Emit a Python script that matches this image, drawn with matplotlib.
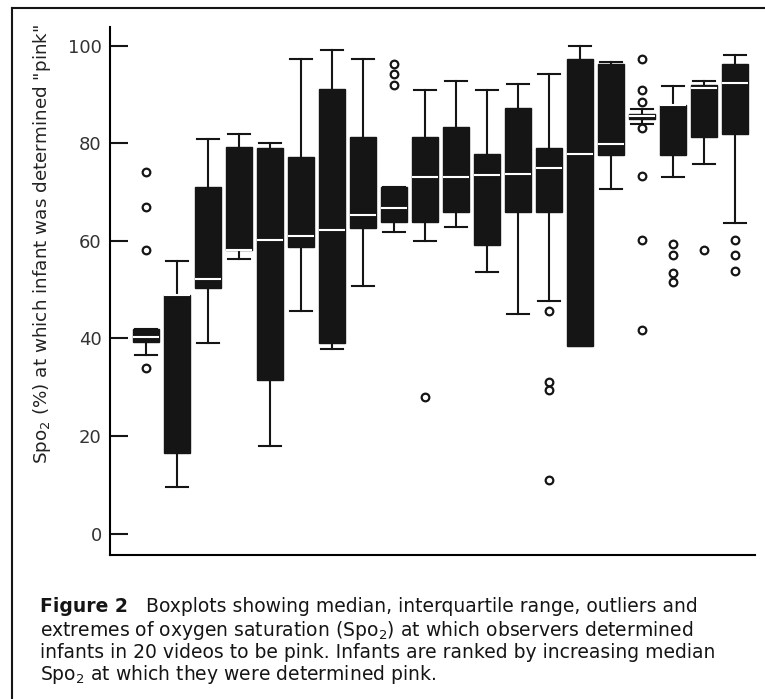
import matplotlib
matplotlib.use("Agg")
from matplotlib import pyplot as plt
from matplotlib.lines import Line2D

# infants ranked by median SpO2
infants = list(range(1, 21))
whislo = [36.6, 9.6, 39.0, 56.2, 18.0, 45.7, 37.8, 50.8, 61.7, 60.0,
          62.8, 53.5, 45.0, 47.7, 38.5, 70.6, 83.9, 73.0, 75.8, 63.7]
q1 = [39.2, 16.6, 50.3, 58.0, 31.5, 58.8, 39.0, 62.7, 63.9, 63.9,
      65.8, 59.2, 65.8, 65.8, 38.5, 77.6, 85.0, 77.6, 81.2, 81.9]
med = [40.2, 48.9, 52.1, 58.0, 60.2, 60.9, 62.1, 65.2, 66.7, 73.0,
       73.0, 73.4, 73.7, 75.0, 77.7, 79.9, 85.5, 87.8, 91.3, 92.3]
q3 = [41.9, 48.9, 71.1, 79.3, 79.0, 77.1, 91.1, 81.2, 71.1, 81.2,
      83.3, 77.8, 87.2, 79.0, 97.3, 96.2, 85.9, 87.8, 91.9, 96.2]
whishi = [41.9, 55.9, 80.9, 81.9, 80.0, 97.2, 99.1, 97.2, 71.1, 90.9,
          92.8, 90.9, 92.2, 94.2, 100.0, 96.7, 87.0, 91.7, 92.8, 98.1]
fliers = [[34, 58, 67, 74], [], [], [], [], [], [], [],
          [92, 94.1, 96.3], [28], [], [], [],
          [45.6, 31.1, 29.4, 10.9], [], [],
          [97.3, 90.9, 88.4, 83.1, 73.2, 60.2, 41.7],
          [59.4, 57.1, 53.4, 51.5], [58.1], [60.2, 57.0, 53.9]]
yticks = [0, 20, 40, 60, 80, 100]

ylabel = 'Spo$_2$ (%) at which infant was determined "pink"'
caption_head = "Figure 2"
caption = [
    "   Boxplots showing median, interquartile range, outliers and",
    "extremes of oxygen saturation (Spo$_2$) at which observers determined",
    "infants in 20 videos to be pink. Infants are ranked by increasing median",
    "Spo$_2$ at which they were determined pink.",
]

plt.rcParams["font.family"] = ["DejaVu Sans"]
plt.rcParams["mathtext.default"] = "regular"

W, H = 765, 699
fig = plt.figure(figsize=(W / 100, H / 100), dpi=100)
ax = fig.add_axes([110 / W, 1 - 555 / H, 645 / W, 528 / H])

stats = []
for i in range(len(infants)):
    stats.append(dict(med=med[i], q1=q1[i], q3=q3[i], whislo=whislo[i],
                      whishi=whishi[i], fliers=fliers[i]))

ink = "#151515"
ax.bxp(stats, positions=infants, widths=0.87, capwidths=0.72,
       patch_artist=True,
       boxprops=dict(facecolor=ink, edgecolor=ink, linewidth=1),
       medianprops=dict(color="white", linewidth=1.5),
       whiskerprops=dict(color=ink, linewidth=1.5),
       capprops=dict(color=ink, linewidth=1.5),
       flierprops=dict(marker="o", markerfacecolor="white",
                       markeredgecolor=ink, markersize=5.5, markeredgewidth=1.6))

ax.set_xlim(1 - 36 / 31, 20 + 20 / 31)
ax.set_ylim(-4.4, 103.8)
ax.set_yticks(yticks)
ax.set_xticks([])
ax.spines["top"].set_visible(False)
ax.spines["right"].set_visible(False)
ax.spines["left"].set_linewidth(1.5)
ax.spines["bottom"].set_linewidth(1.5)
ax.tick_params(axis="y", direction="in", length=13, width=1.5, pad=6,
               labelsize=13, labelcolor="#333333", color=ink)

fig.text(42 / W, 1 - 244 / H, ylabel, rotation=90, ha="center", va="center",
         fontsize=13.2, color="#222222")

# caption below the plot
x0 = 40 / W
line_y = [607, 630, 652, 674]
head = fig.text(x0, 1 - line_y[0] / H, caption_head, fontweight="bold",
                fontsize=13.5, va="center", color=ink)
ax.annotate(caption[0], xy=(1, 0.5), xycoords=head, va="center", ha="left",
            fontsize=13.5, color=ink, annotation_clip=False)
for txt, y in zip(caption[1:], line_y[1:]):
    fig.text(x0, 1 - y / H, txt, fontsize=13.5, va="center", color=ink)

# frame of the scanned figure
fig.add_artist(Line2D([12 / W, 12 / W], [0, 1 - 8 / H], color=ink,
                      linewidth=1.5, transform=fig.transFigure))
fig.add_artist(Line2D([12 / W, 1], [1 - 8 / H, 1 - 8 / H], color=ink,
                      linewidth=1.5, transform=fig.transFigure))

fig.savefig("out.png", dpi=100)
